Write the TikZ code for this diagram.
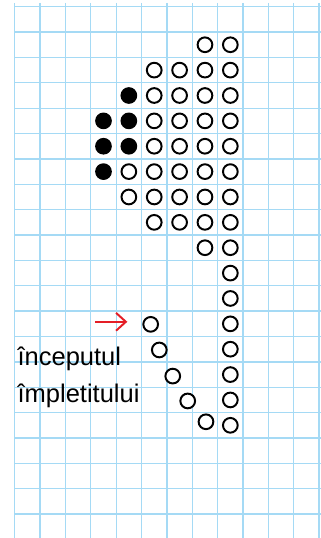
\documentclass[tikz,border=0pt]{standalone}
\usepackage{fontspec}
\setmainfont{Liberation Sans}
\usepackage{xcolor}
\usepackage{tikz}
\usetikzlibrary{arrows.meta,shapes.geometric}
\definecolor{azulCuadro}{RGB}{165,218,245}
\definecolor{rojoFlecha}{RGB}{228,30,38}

\begin{document}
\begin{tikzpicture}[x=0.5cm,y=-0.5cm,
    lineaCuadro/.style={azulCuadro, line width=0.75pt},
    puntoVacio/.style={circle, draw=black, line width=1.1pt, fill=white,
      minimum size=0.29cm, inner sep=0pt},
    puntoLleno/.style={puntoVacio, fill=black},
    etiqueta/.style={anchor=base west, inner sep=0pt,
      font=\fontsize{14.3}{17}\selectfont},
    flecha/.style={-{Straight Barb[length=5.5pt,width=10pt]},
      rojoFlecha, line width=1.1pt}]
  \useasboundingbox (-0.579,-0.264) rectangle (12.074,20.942);
  % Grid paper
  \foreach \i in {0,...,12}
    \draw[lineaCuadro] (\i,-0.146) -- (\i,20.942);
  \foreach \j in {0,...,20}
    \draw[lineaCuadro] (0,\j) -- (12.074,\j);
  % Right column of open dots
  \foreach \r in {1,...,16}
    \node[puntoVacio] (v-\r-8) at (8.5,\r+0.5) {};
  % Open dots of the head
  \foreach \r/\c in {1/7, 2/5,2/6,2/7, 3/5,3/6,3/7, 4/5,4/6,4/7,
      5/5,5/6,5/7, 6/4,6/5,6/6,6/7, 7/4,7/5,7/6,7/7, 8/5,8/6,8/7, 9/7}
    \node[puntoVacio] (v-\r-\c) at (\c+0.5,\r+0.5) {};
  % Filled dots
  \foreach \r/\c in {3/4, 4/3,4/4, 5/3,5/4, 6/3}
    \node[puntoLleno] (l-\r-\c) at (\c+0.5,\r+0.5) {};
  % Diagonal start of the braid
  \node[puntoVacio] (d1) at (5.36,12.52) {};
  \node[puntoVacio] (d2) at (5.70,13.53) {};
  \node[puntoVacio] (d3) at (6.23,14.56) {};
  \node[puntoVacio] (d4) at (6.82,15.54) {};
  \node[puntoVacio] (d5) at (7.54,16.36) {};
  % Red arrow and label
  \coordinate (flechaIni) at (3.17,12.42);
  \coordinate (flechaFin) at (4.44,12.42);
  \draw[flecha] (flechaIni) -- (flechaFin);
  \node[etiqueta] (inceput) at (0.10,14.15) {începutul};
  \node[etiqueta] (impletit) at (0.10,15.59) {împletitului};
\end{tikzpicture}
\end{document}
